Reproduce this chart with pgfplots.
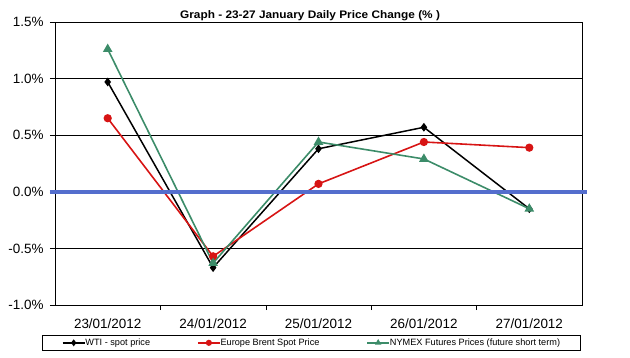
\documentclass[border=0pt]{standalone}
\usepackage{pgfplots}
\pgfplotsset{compat=1.18}
\usepackage{fontspec}
\setmainfont{Liberation Sans}
\newfontfamily\titlefont[FakeStretch=1.08]{Liberation Sans}
\definecolor{wti}{RGB}{0,0,0}
\definecolor{brent}{RGB}{215,20,20}
\definecolor{nymex}{RGB}{60,140,105}
\definecolor{zero}{RGB}{84,110,205}
\begin{document}
\begin{tikzpicture}
\useasboundingbox (-55bp,-53bp) rectangle (575bp,305bp);
\begin{axis}[
  at={(0,0)}, anchor=south west,
  scale only axis, width=527bp, height=283bp,
  xmin=-0.5, xmax=4.5, ymin=-1, ymax=1.5,
  xtick={0,1,2,3,4},
  xticklabels={23/01/2012,24/01/2012,25/01/2012,26/01/2012,27/01/2012},
  minor xtick={0.5,1.5,2.5,3.5},
  ytick={-1,-0.5,0,0.5,1,1.5},
  yticklabel={\pgfmathprintnumber[fixed,fixed zerofill,precision=1]{\tick}\%},
  /pgf/number format/assume math mode=true,
  tick align=outside, tick pos=left,
  major tick length=5bp, minor tick length=5bp,
  every major x tick/.append style={draw=none},
  tick style={black, line width=0.6pt},
  ymajorgrids, grid style={black, line width=0.6pt},
  axis line style={black, line width=0.6pt},
  ticklabel style={font=\fontsize{13.5}{15}\selectfont},
  xticklabel style={yshift=-5bp},
  yticklabel style={xshift=-3bp},
  clip=false,
  legend columns=3,
  legend style={at={(0,0)}, anchor=north west, yshift=-30bp, xshift=-13.3bp,
    font=\fontsize{9.2}{10}\selectfont,
    draw=black, line width=0.5pt, inner xsep=20bp, inner ysep=1.5pt,
    nodes={inner xsep=0pt, inner ysep=2pt},
    row sep=0pt,
    /tikz/every even column/.append style={column sep=47bp}},
  legend cell align=left,
  legend image code/.code={\draw[#1, line width=1.5pt, mark size=2.3pt, mark repeat=2, mark phase=2]
    plot coordinates {(0bp,0bp)(11bp,0bp)(22bp,0bp)};},
]
\addplot[wti, line width=1.5pt, mark=diamond*, mark size=3.2pt, mark options={solid}]
  coordinates {(0,0.97) (1,-0.67) (2,0.38) (3,0.57) (4,-0.15)};
\addlegendentry{WTI - spot price}
\addplot[brent, line width=1.6pt, mark=*, mark size=3.3pt]
  coordinates {(0,0.65) (1,-0.57) (2,0.07) (3,0.44) (4,0.39)};
\addlegendentry{Europe Brent Spot Price}
\addplot[nymex, line width=1.6pt, mark=triangle*, mark size=4pt]
  coordinates {(0,1.26) (1,-0.63) (2,0.44) (3,0.29) (4,-0.15)};
\addlegendentry{NYMEX Futures Prices (future short term)}
\addplot[zero, line width=3.5pt, forget plot] coordinates {(-0.55,0) (4.55,0)};
\node[font=\titlefont\bfseries\fontsize{11}{12}\selectfont, anchor=base]
  at (rel axis cs:0.484,1) [yshift=4bp] {Graph - 23-27 January Daily Price Change (\% )};
\end{axis}
\end{tikzpicture}
\end{document}
